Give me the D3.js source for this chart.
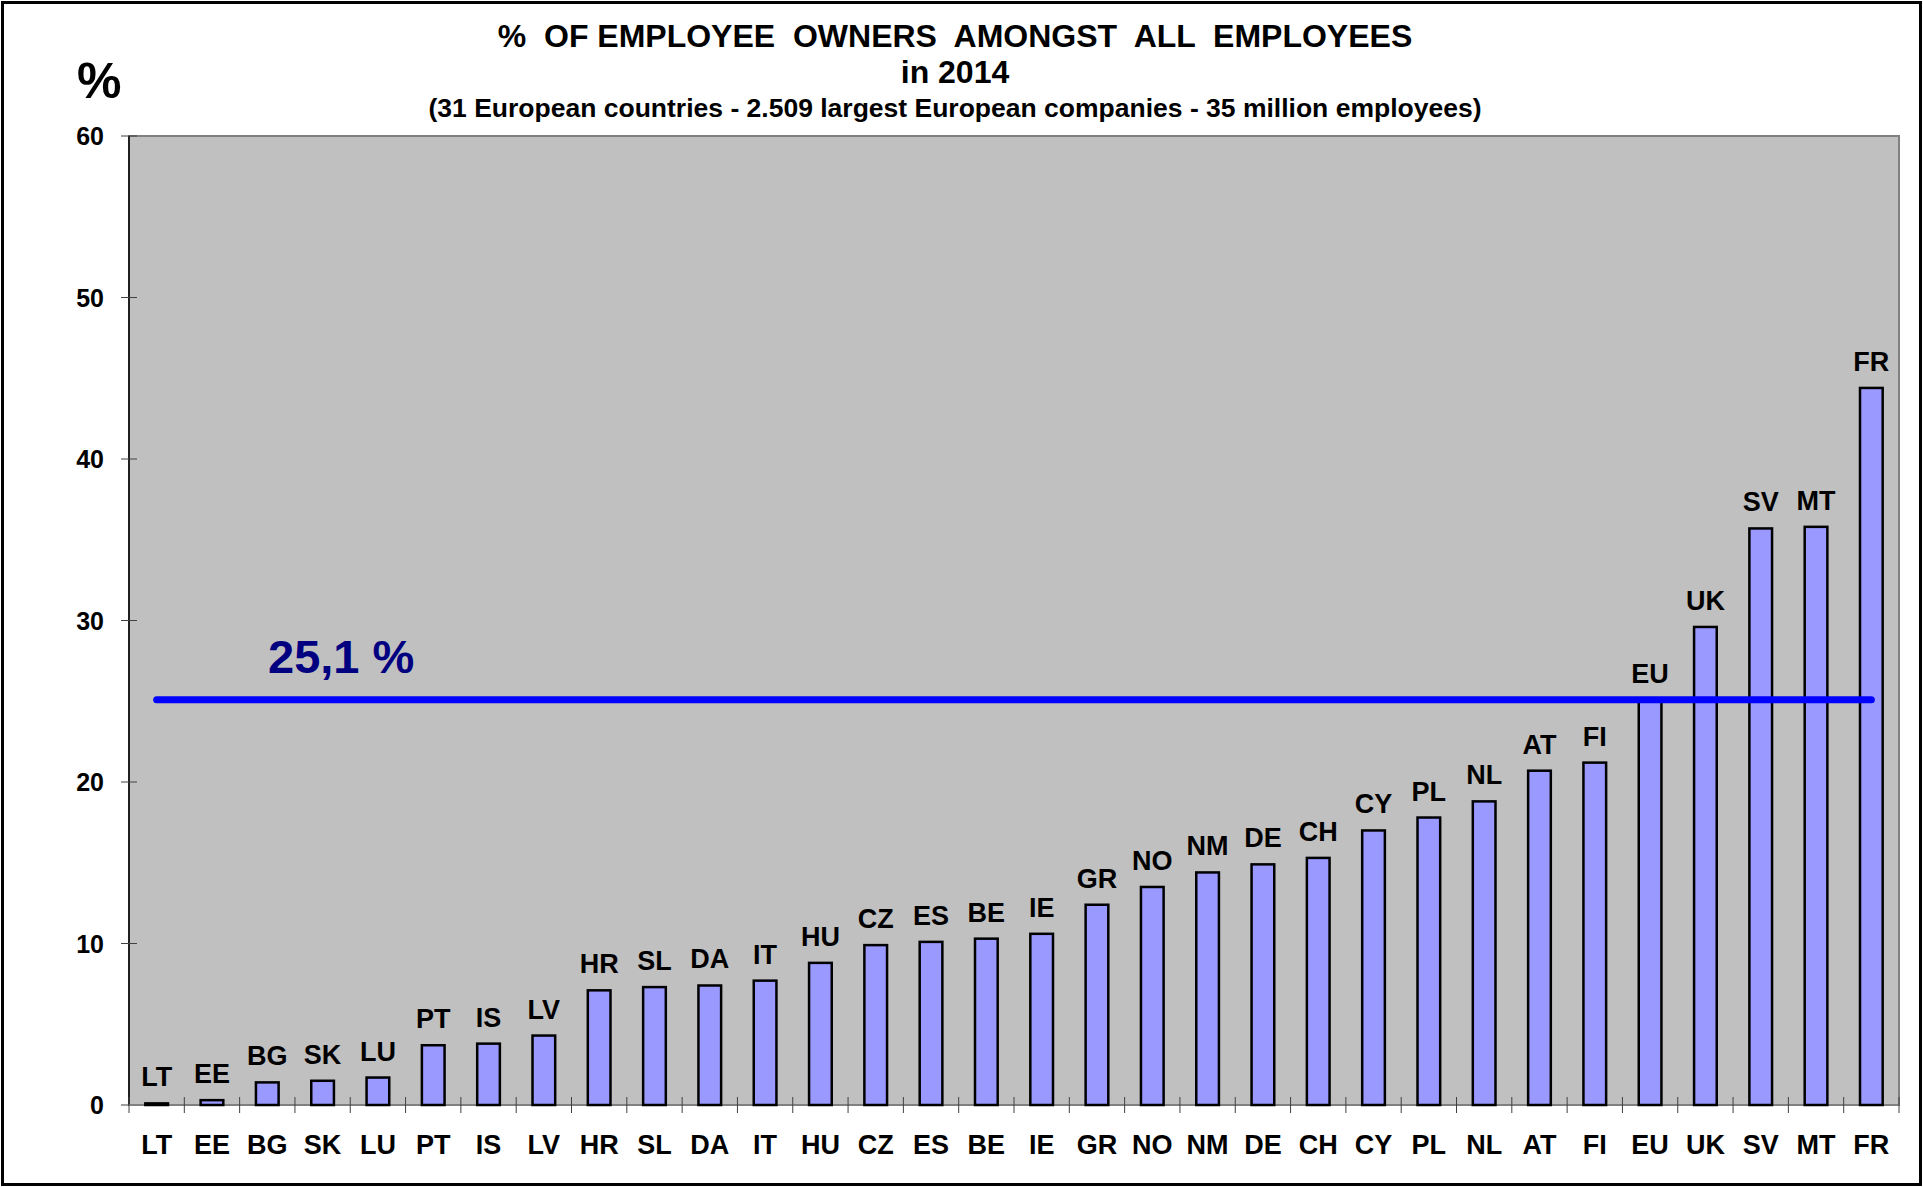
<!DOCTYPE html>
<html>
<head>
<meta charset="utf-8">
<script src="https://cdn.jsdelivr.net/npm/d3@7"></script>
<style>
  body { margin: 0; background: #fff; }
  text { font-family: "Liberation Sans", Arial, sans-serif; font-weight: bold; white-space: pre; }
</style>
</head>
<body>
<div id="chart"></div>
<script>

var countries = ["LT","EE","BG","SK","LU","PT","IS","LV","HR","SL","DA","IT","HU","CZ","ES","BE",
                 "IE","GR","NO","NM","DE","CH","CY","PL","NL","AT","FI","EU","UK","SV","MT","FR"];
var shares = [0.1, 0.3, 1.4, 1.5, 1.7, 3.7, 3.8, 4.3, 7.1, 7.3, 7.4, 7.7, 8.8, 9.9, 10.1, 10.3,
              10.6, 12.4, 13.5, 14.4, 14.9, 15.3, 17.0, 17.8, 18.8, 20.7, 21.2, 25.1, 29.6, 35.7, 35.8, 44.4];
var yTicks = [0, 10, 20, 30, 40, 50, 60];
var euAverage = 25.1;
var euLabel = "25,1 %";

var width = 1923;
var height = 1187;

// plot area bounds (avoid "top", it clashes with window.top)
var plotL = 129, plotR = 1899, plotT = 136, plotB = 1105;

var svg = d3.select("#chart")
            .append("svg")
            .attr("width", width)
            .attr("height", height);

// outer frame
svg.append("rect")
   .attr("x", 2.5).attr("y", 2.5)
   .attr("width", width - 5).attr("height", height - 5)
   .attr("fill", "#fff")
   .attr("stroke", "#000")
   .attr("stroke-width", 3);

var x = d3.scaleBand()
          .domain(countries)
          .range([plotL, plotR])
          .paddingInner(0.59)
          .paddingOuter(0.295);

var y = d3.scaleLinear()
          .domain([0, 60])
          .range([plotB, plotT]);

// plot area
svg.append("rect")
   .attr("x", plotL).attr("y", plotT)
   .attr("width", plotR - plotL).attr("height", plotB - plotT)
   .attr("fill", "#C0C0C0")
   .attr("stroke", "#808080")
   .attr("stroke-width", 2);

// y axis
svg.append("line")
   .attr("x1", plotL).attr("x2", plotL)
   .attr("y1", plotT).attr("y2", plotB)
   .attr("stroke", "#000").attr("stroke-width", 1.5);

svg.selectAll(".ytick")
   .data(yTicks)
   .enter()
   .append("line")
   .attr("x1", plotL - 8).attr("x2", plotL + 8)
   .attr("y1", function(d){ return y(d); })
   .attr("y2", function(d){ return y(d); })
   .attr("stroke", "#404040").attr("stroke-width", 1);

svg.selectAll(".ylab")
   .data(yTicks)
   .enter()
   .append("text")
   .attr("x", 104)
   .attr("y", function(d){ return y(d); })
   .attr("dy", "0.36em")
   .attr("text-anchor", "end")
   .attr("font-size", 25)
   .text(function(d){ return d; });

// x axis
svg.append("line")
   .attr("x1", plotL).attr("x2", plotR)
   .attr("y1", plotB).attr("y2", plotB)
   .attr("stroke", "#808080").attr("stroke-width", 2);

var step = x.step();
svg.selectAll(".xtick")
   .data(d3.range(countries.length + 1))
   .enter()
   .append("line")
   .attr("x1", function(i){ return plotL + i * step; })
   .attr("x2", function(i){ return plotL + i * step; })
   .attr("y1", plotB - 8).attr("y2", plotB + 8)
   .attr("stroke", "#404040").attr("stroke-width", 1);

svg.selectAll(".xlab")
   .data(countries)
   .enter()
   .append("text")
   .attr("x", function(d){ return x(d) + x.bandwidth() / 2; })
   .attr("y", 1154)
   .attr("text-anchor", "middle")
   .attr("font-size", 27)
   .text(function(d){ return d; });

// bars
var data = countries.map(function(c, i){ return {name: c, value: shares[i]}; });

svg.selectAll(".bar")
   .data(data)
   .enter()
   .append("rect")
   .attr("x", function(d){ return x(d.name); })
   .attr("y", function(d){ return y(d.value); })
   .attr("width", x.bandwidth())
   .attr("height", function(d){ return plotB - y(d.value); })
   .attr("fill", "#9999FF")
   .attr("stroke", "#000")
   .attr("stroke-width", 2.5);

svg.selectAll(".barlab")
   .data(data)
   .enter()
   .append("text")
   .attr("x", function(d){ return x(d.name) + x.bandwidth() / 2; })
   .attr("y", function(d){ return y(d.value) - 17; })
   .attr("text-anchor", "middle")
   .attr("font-size", 27)
   .text(function(d){ return d.name; });

// EU average line
svg.append("line")
   .attr("x1", x(countries[0]) + x.bandwidth() / 2)
   .attr("x2", x(countries[countries.length - 1]) + x.bandwidth() / 2)
   .attr("y1", y(euAverage)).attr("y2", y(euAverage))
   .attr("stroke", "#0000FF")
   .attr("stroke-width", 7)
   .attr("stroke-linecap", "round");

svg.append("text")
   .attr("x", 268)
   .attr("y", 673)
   .attr("font-size", 47)
   .attr("fill", "#000080")
   .text(euLabel);

// titles
svg.append("text")
   .attr("x", 955).attr("y", 47)
   .attr("text-anchor", "middle")
   .attr("font-size", 32)
   .text("%  OF EMPLOYEE  OWNERS  AMONGST  ALL  EMPLOYEES");

svg.append("text")
   .attr("x", 955).attr("y", 83)
   .attr("text-anchor", "middle")
   .attr("font-size", 32)
   .text("in 2014");

svg.append("text")
   .attr("x", 955).attr("y", 117)
   .attr("text-anchor", "middle")
   .attr("font-size", 26.5)
   .text("(31 European countries - 2.509 largest European companies - 35 million employees)");

svg.append("text")
   .attr("x", 77).attr("y", 98)
   .attr("font-size", 50)
   .text("%");

</script>
</body>
</html>
